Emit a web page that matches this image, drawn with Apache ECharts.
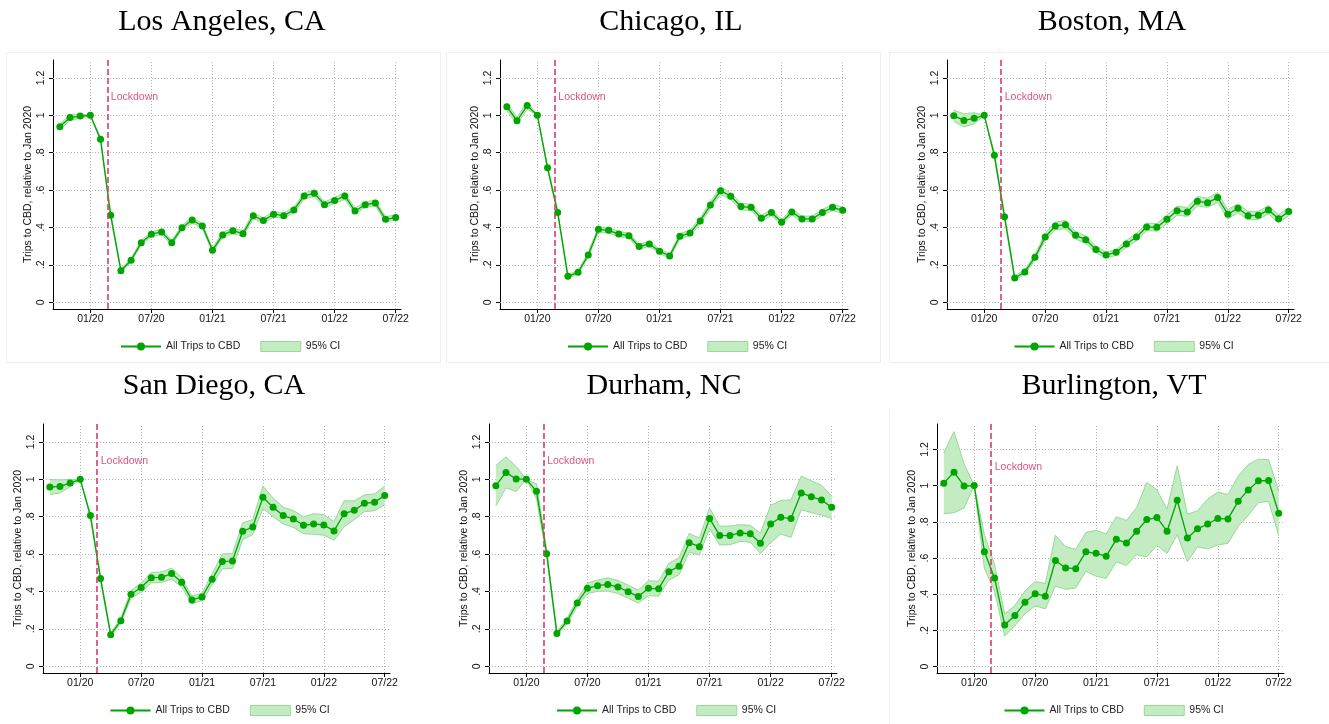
<!DOCTYPE html>
<html><head><meta charset="utf-8">
<script src="https://cdn.jsdelivr.net/npm/echarts@6/dist/echarts.min.js"></script>
<style>html,body{margin:0;padding:0;background:#fff}#c{width:1329px;height:724px}</style>
</head><body><div id="c"></div>
<script>
// ---------------- DATA ----------------
const months = ['2019-10','2019-11','2019-12',
  '2020-01','2020-02','2020-03','2020-04','2020-05','2020-06','2020-07','2020-08','2020-09','2020-10','2020-11','2020-12',
  '2021-01','2021-02','2021-03','2021-04','2021-05','2021-06','2021-07','2021-08','2021-09','2021-10','2021-11','2021-12',
  '2022-01','2022-02','2022-03','2022-04','2022-05','2022-06','2022-07'];

const xTickMonths = ['2020-01','2020-07','2021-01','2021-07','2022-01','2022-07'];
const xTickLabels = ['01/20','07/20','01/21','07/21','01/22','07/22'];
const yTicks = [0, 0.2, 0.4, 0.6, 0.8, 1.0, 1.2];
const yTickLabels = ['0', '.2', '.4', '.6', '.8', '1', '1.2'];

const cityTitles = ['Los Angeles, CA', 'Chicago, IL', 'Boston, MA', 'San Diego, CA', 'Durham, NC', 'Burlington, VT'];
// lockdown date, in months after Jan 2020
const lockdownAt = [1.67, 1.72, 1.67, 1.67, 1.70, 1.67];
const lockdownLabelY = 1.1;

const laVal = [0.939,0.988,0.996,1.0,0.872,0.465,0.169,0.225,0.319,0.364,0.376,0.319,0.399,0.440,0.408,0.278,0.360,0.383,0.367,0.463,0.437,0.471,0.463,0.494,0.569,0.583,0.522,0.544,0.569,0.488,0.522,0.531,0.444,0.453];
const laCI  = [.015,.015,.012,0,.01,.01,.008,.01,.012,.012,.014,.012,.012,.015,.012,.012,.014,.015,.014,.015,.014,.015,.014,.015,.016,.017,.015,.016,.018,.015,.015,.015,.014,.014];

const chiVal = [1.046,0.971,1.052,1.0,0.720,0.480,0.139,0.160,0.253,0.390,0.385,0.365,0.356,0.298,0.312,0.273,0.248,0.353,0.371,0.435,0.520,0.597,0.567,0.512,0.508,0.449,0.480,0.428,0.483,0.446,0.446,0.480,0.508,0.492];
const chiCI  = [.02,.018,.02,0,.01,.01,.008,.01,.012,.014,.014,.014,.014,.013,.013,.012,.012,.014,.015,.016,.018,.02,.018,.017,.017,.016,.016,.015,.016,.015,.015,.016,.017,.016];

const bosVal = [0.998,0.973,0.984,1.0,0.786,0.458,0.130,0.162,0.241,0.349,0.408,0.415,0.358,0.335,0.282,0.253,0.267,0.312,0.349,0.403,0.401,0.444,0.490,0.483,0.540,0.533,0.560,0.471,0.503,0.463,0.465,0.494,0.447,0.485];
const bosCI  = [.03,.035,.03,0,.012,.012,.01,.012,.015,.018,.02,.022,.02,.02,.018,.016,.016,.018,.02,.02,.02,.022,.024,.024,.025,.025,.026,.024,.024,.022,.022,.022,.022,.022];

const sdVal = [0.959,0.962,0.980,1.0,0.806,0.469,0.169,0.244,0.385,0.421,0.474,0.476,0.496,0.449,0.355,0.371,0.465,0.561,0.563,0.722,0.745,0.904,0.850,0.806,0.788,0.754,0.761,0.756,0.724,0.816,0.834,0.872,0.877,0.914];
const sdCI  = [.04,.035,.02,0,.01,.01,.008,.015,.02,.025,.028,.028,.03,.025,.02,.02,.03,.04,.04,.045,.04,.06,.05,.045,.045,.045,.055,.055,.05,.07,.05,.045,.045,.05];

const durVal = [0.966,1.037,1.002,1.0,0.936,0.602,0.175,0.242,0.339,0.417,0.431,0.438,0.424,0.399,0.373,0.417,0.415,0.506,0.535,0.661,0.640,0.791,0.699,0.700,0.713,0.709,0.658,0.761,0.797,0.790,0.927,0.907,0.889,0.850];
const durCI  = [.108,.083,.067,0,.04,.02,.01,.015,.02,.028,.03,.035,.035,.035,.035,.04,.04,.045,.045,.05,.045,.055,.05,.05,.045,.045,.055,.1,.09,.1,.09,.085,.08,.06];

const burVal = [1.013,1.074,0.998,1.0,0.635,0.490,0.230,0.282,0.355,0.403,0.389,0.586,0.545,0.541,0.634,0.626,0.610,0.703,0.683,0.748,0.812,0.823,0.748,0.919,0.711,0.761,0.788,0.818,0.816,0.913,0.976,1.026,1.028,0.847];
const burCI  = [.168,.224,.122,0,.093,.074,.061,.056,.063,.067,.07,.14,.118,.107,.107,.127,.122,.125,.124,.13,.205,.154,.122,.19,.131,.1,.138,.146,.135,.139,.141,.12,.115,.123];

// ---------------- LAYOUT ----------------
const layout = [
  {left:53,  top:60,  width:348, height:249, ymin:-0.036, ymax:1.296, titleX:217,  titleTop:2,   legendTop:336},
  {left:500, top:60,  width:348, height:249, ymin:-0.036, ymax:1.296, titleX:666,  titleTop:2,   legendTop:336},
  {left:947, top:60,  width:347, height:249, ymin:-0.036, ymax:1.296, titleX:1107, titleTop:2,   legendTop:336},
  {left:43,  top:424, width:347, height:249, ymin:-0.036, ymax:1.296, titleX:209,  titleTop:366, legendTop:700},
  {left:489, top:424, width:348, height:249, ymin:-0.036, ymax:1.296, titleX:659,  titleTop:366, legendTop:700},
  {left:937, top:424, width:347, height:249, ymin:-0.035, ymax:1.340, titleX:1109, titleTop:366, legendTop:700}
];
const XMIN = -3.67, XMAX = 30.52;
const FONT = '"Liberation Sans", Arial, sans-serif';
const GREEN = '#00a600';
const CI_FILL = '#c3ecc3';
const CI_EDGE = '#96da96';
const LOCK = '#dc3b6d';

const vals = [laVal, chiVal, bosVal, sdVal, durVal, burVal];
const cis  = [laCI, chiCI, bosCI, sdCI, durCI, burCI];

function monthIndex(s) { const p = s.split('-'); return (+p[0] - 2020) * 12 + (+p[1] - 1); }
const mx = months.map(monthIndex);
const xTicks = xTickMonths.map(monthIndex);
function xLabel(v) { const k = xTicks.findIndex(t => Math.abs(t - v) < 1e-6); return k < 0 ? '' : xTickLabels[k]; }
function yLabel(v) { const k = yTicks.findIndex(t => Math.abs(t - v) < 1e-6); return k < 0 ? '' : yTickLabels[k]; }

const grid = [], xAxis = [], yAxis = [], series = [], title = [], legend = [], graphic = [];
const txt = {fontFamily: FONT, fontSize: 10.5, color: '#111'};

layout.forEach((L, i) => {
  grid.push({left: L.left, top: L.top, width: L.width, height: L.height, containLabel: false, outerBoundsMode: 'none'});
  xAxis.push({
    type: 'value', gridIndex: i, min: XMIN, max: XMAX,
    axisLine: {show: true, onZero: false, lineStyle: {color: '#000', width: 1}},
    axisTick: {show: true, length: 4, customValues: xTicks, lineStyle: {color: '#000'}},
    axisLabel: Object.assign({show: true, customValues: xTicks, margin: 5, formatter: xLabel}, txt),
    splitLine: {show: false}
  });
  yAxis.push({
    type: 'value', gridIndex: i, min: L.ymin, max: L.ymax,
    axisLine: {show: true, onZero: false, lineStyle: {color: '#000', width: 1}},
    axisTick: {show: true, length: 4, customValues: yTicks, lineStyle: {color: '#000'}},
    axisLabel: Object.assign({show: true, customValues: yTicks, rotate: 90, margin: 6, formatter: yLabel}, txt),
    splitLine: {show: false},
    name: 'Trips to CBD, relative to Jan 2020', nameLocation: 'middle', nameGap: 19,
    nameTextStyle: Object.assign({}, txt)
  });

  const v = vals[i], c = cis[i];
  // dotted grid lines at the tick values (drawn underneath everything)
  series.push({
    type: 'line', name: 'grid' + i, xAxisIndex: i, yAxisIndex: i, data: [], silent: true, z: 1,
    markLine: {
      z: 1, silent: true, symbol: ['none', 'none'], label: {show: false}, animation: false,
      emphasis: {disabled: true},
      lineStyle: {color: '#b5b5b5', type: [1, 2], width: 1},
      data: yTicks.map(t => ({yAxis: t})).concat(xTicks.map(t => ({xAxis: t})))
    }
  });
  // CI band (polygon between lower and upper bounds, through the axes' scales)
  series.push({
    type: 'custom', name: '95% CI', xAxisIndex: i, yAxisIndex: i, z: 2, silent: true,
    data: [[mx[0], v[0]]], itemStyle: {color: CI_FILL}, animation: false,
    renderItem: (params, api) => {
      const up = mx.map((x, k) => api.coord([x, v[k] + c[k]]));
      const dn = mx.map((x, k) => api.coord([x, v[k] - c[k]]));
      const poly = up.concat(dn.slice().reverse());
      return {type: 'group', children: [
        {type: 'polygon', shape: {points: poly}, style: {fill: CI_FILL, stroke: null}},
        {type: 'polyline', shape: {points: up}, style: {fill: null, stroke: CI_EDGE, lineWidth: 1}},
        {type: 'polyline', shape: {points: dn}, style: {fill: null, stroke: CI_EDGE, lineWidth: 1}}
      ]};
    }
  });
  // main series + lockdown line
  series.push({
    type: 'line', name: 'All Trips to CBD', xAxisIndex: i, yAxisIndex: i, z: 3,
    data: mx.map((x, k) => [x, v[k]]),
    symbol: 'circle', symbolSize: 7, showSymbol: true, showAllSymbol: true,
    itemStyle: {color: GREEN}, lineStyle: {color: GREEN, width: 1.3}, animation: false,
    markLine: {
      z: 5, silent: true, symbol: ['none', 'none'], label: {show: false}, animation: false,
      lineStyle: {color: LOCK, type: [6, 3], width: 1.6},
      data: [{xAxis: lockdownAt[i]}]
    }
  });
  series.push({
    type: 'scatter', xAxisIndex: i, yAxisIndex: i, silent: true, z: 4,
    data: [[lockdownAt[i], lockdownLabelY]], symbolSize: 1, itemStyle: {color: 'rgba(0,0,0,0)'},
    label: {show: true, position: 'right', distance: 3, formatter: 'Lockdown', color: '#cf2a5e', fontFamily: FONT, fontSize: 10.5},
    animation: false
  });

  title.push({
    text: cityTitles[i], left: L.titleX, top: L.titleTop, textAlign: 'center',
    textStyle: {fontFamily: '"Liberation Serif", "Times New Roman", serif', fontSize: 30, fontWeight: 'normal', color: '#000'}
  });
  legend.push({
    left: L.left + L.width / 2 - 112, top: L.legendTop, itemWidth: 40, itemHeight: 10, itemGap: 20,
    selectedMode: false, textStyle: Object.assign({}, txt, {color: '#222'}),
    data: [
      {name: 'All Trips to CBD'},
      {name: '95% CI', icon: 'rect', itemStyle: {color: CI_FILL, borderColor: CI_EDGE, borderWidth: 1}}
    ]
  });
});

// faint panel frames
[[6, 52, 434, 310], [446, 52, 434, 310], [889, 52, 440, 310]].forEach(r => {
  graphic.push({type: 'rect', shape: {x: r[0] + 0.5, y: r[1] + 0.5, width: r[2], height: r[3]}, style: {fill: 'none', stroke: '#efefef', lineWidth: 1}, silent: true, z: -1});
});
graphic.push({type: 'line', shape: {x1: 889.5, y1: 410, x2: 889.5, y2: 724}, style: {stroke: '#efefef', lineWidth: 1}, silent: true, z: -1});

const chart = echarts.init(document.getElementById('c'), null, {renderer: 'canvas'});
chart.setOption({
  animation: false, backgroundColor: '#fff',
  grid, xAxis, yAxis, series, title, legend, graphic
});
</script></body></html>
